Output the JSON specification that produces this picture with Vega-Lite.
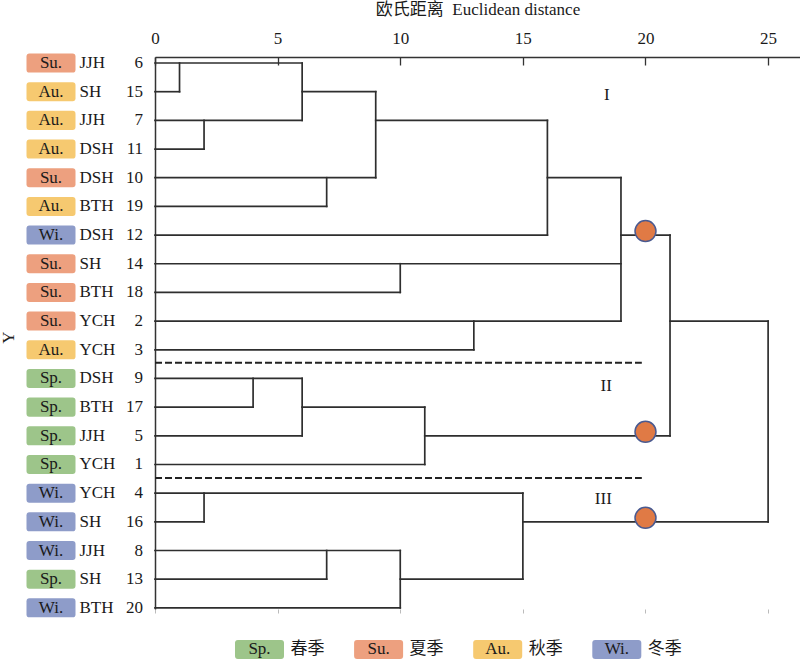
{
  "$schema": "https://vega.github.io/schema/vega-lite/v6.json",
  "autosize": "none",
  "padding": {"left": 155, "top": 57, "right": 0, "bottom": 51},
  "width": 645,
  "height": 552,
  "background": "white",
  "config": {
    "view": {"stroke": null},
    "font": "'Liberation Serif', 'Noto Sans CJK SC', serif",
    "axis": {"grid": false},
    "axisY": {"domainColor": "#333333", "domainWidth": 1.5, "ticks": false, "labels": false, "titleAngle": -90, "titleX": -147, "titleY": 280, "titleFontSize": 17, "titleFontWeight": "normal", "titleFont": "'Liberation Serif', serif", "titleColor": "#222222", "titleAlign": "center", "titleBaseline": "middle"},
    "text": {"font": "'Liberation Serif', 'Noto Sans CJK SC', serif", "fontSize": 17, "color": "#1a1a1a"}
  },
  "datasets": {
    "leaves": [
      {"idx": 0, "season": "Su.", "site": "JJH", "num": "6"},
      {"idx": 1, "season": "Au.", "site": "SH", "num": "15"},
      {"idx": 2, "season": "Au.", "site": "JJH", "num": "7"},
      {"idx": 3, "season": "Au.", "site": "DSH", "num": "11"},
      {"idx": 4, "season": "Su.", "site": "DSH", "num": "10"},
      {"idx": 5, "season": "Au.", "site": "BTH", "num": "19"},
      {"idx": 6, "season": "Wi.", "site": "DSH", "num": "12"},
      {"idx": 7, "season": "Su.", "site": "SH", "num": "14"},
      {"idx": 8, "season": "Su.", "site": "BTH", "num": "18"},
      {"idx": 9, "season": "Su.", "site": "YCH", "num": "2"},
      {"idx": 10, "season": "Au.", "site": "YCH", "num": "3"},
      {"idx": 11, "season": "Sp.", "site": "DSH", "num": "9"},
      {"idx": 12, "season": "Sp.", "site": "BTH", "num": "17"},
      {"idx": 13, "season": "Sp.", "site": "JJH", "num": "5"},
      {"idx": 14, "season": "Sp.", "site": "YCH", "num": "1"},
      {"idx": 15, "season": "Wi.", "site": "YCH", "num": "4"},
      {"idx": 16, "season": "Wi.", "site": "SH", "num": "16"},
      {"idx": 17, "season": "Wi.", "site": "JJH", "num": "8"},
      {"idx": 18, "season": "Sp.", "site": "SH", "num": "13"},
      {"idx": 19, "season": "Wi.", "site": "BTH", "num": "20"}
    ],
    "segments": [
      {"d1": 0, "d2": 6, "r1": 0, "r2": 0},
      {"d1": 0, "d2": 1, "r1": 1, "r2": 1},
      {"d1": 0, "d2": 6, "r1": 2, "r2": 2},
      {"d1": 0, "d2": 2, "r1": 3, "r2": 3},
      {"d1": 0, "d2": 9, "r1": 4, "r2": 4},
      {"d1": 0, "d2": 7, "r1": 5, "r2": 5},
      {"d1": 0, "d2": 16, "r1": 6, "r2": 6},
      {"d1": 0, "d2": 19, "r1": 7, "r2": 7},
      {"d1": 0, "d2": 10, "r1": 8, "r2": 8},
      {"d1": 0, "d2": 19, "r1": 9, "r2": 9},
      {"d1": 0, "d2": 13, "r1": 10, "r2": 10},
      {"d1": 0, "d2": 6, "r1": 11, "r2": 11},
      {"d1": 0, "d2": 4, "r1": 12, "r2": 12},
      {"d1": 0, "d2": 6, "r1": 13, "r2": 13},
      {"d1": 0, "d2": 11, "r1": 14, "r2": 14},
      {"d1": 0, "d2": 15, "r1": 15, "r2": 15},
      {"d1": 0, "d2": 2, "r1": 16, "r2": 16},
      {"d1": 0, "d2": 10, "r1": 17, "r2": 17},
      {"d1": 0, "d2": 7, "r1": 18, "r2": 18},
      {"d1": 0, "d2": 10, "r1": 19, "r2": 19},
      {"d1": 6, "d2": 9, "r1": 1, "r2": 1},
      {"d1": 9, "d2": 16, "r1": 2, "r2": 2},
      {"d1": 16, "d2": 19, "r1": 4, "r2": 4},
      {"d1": 19, "d2": 21, "r1": 6, "r2": 6},
      {"d1": 6, "d2": 11, "r1": 12, "r2": 12},
      {"d1": 11, "d2": 21, "r1": 13, "r2": 13},
      {"d1": 10, "d2": 15, "r1": 18, "r2": 18},
      {"d1": 15, "d2": 25, "r1": 16, "r2": 16},
      {"d1": 21, "d2": 25, "r1": 9, "r2": 9},
      {"d1": 1, "d2": 1, "r1": 0, "r2": 1},
      {"d1": 2, "d2": 2, "r1": 2, "r2": 3},
      {"d1": 6, "d2": 6, "r1": 0, "r2": 2},
      {"d1": 9, "d2": 9, "r1": 1, "r2": 4},
      {"d1": 7, "d2": 7, "r1": 4, "r2": 5},
      {"d1": 16, "d2": 16, "r1": 2, "r2": 6},
      {"d1": 10, "d2": 10, "r1": 7, "r2": 8},
      {"d1": 13, "d2": 13, "r1": 9, "r2": 10},
      {"d1": 19, "d2": 19, "r1": 4, "r2": 9},
      {"d1": 4, "d2": 4, "r1": 11, "r2": 12},
      {"d1": 6, "d2": 6, "r1": 11, "r2": 13},
      {"d1": 11, "d2": 11, "r1": 12, "r2": 14},
      {"d1": 21, "d2": 21, "r1": 6, "r2": 13},
      {"d1": 2, "d2": 2, "r1": 15, "r2": 16},
      {"d1": 7, "d2": 7, "r1": 17, "r2": 18},
      {"d1": 10, "d2": 10, "r1": 17, "r2": 19},
      {"d1": 15, "d2": 15, "r1": 15, "r2": 18},
      {"d1": 25, "d2": 25, "r1": 9, "r2": 16}
    ],
    "cuts": [
      {"d": 20, "row": 6},
      {"d": 20, "row": 13},
      {"d": 20, "row": 16}
    ],
    "separators": [
      {"row": 10.45},
      {"row": 14.47}
    ],
    "clusters": [
      {"label": "I", "d": 18.42, "row": 1.1},
      {"label": "II", "d": 18.4, "row": 11.27},
      {"label": "III", "d": 18.28, "row": 15.2}
    ],
    "legend": [
      {"season": "Sp.", "name": "春季"},
      {"season": "Su.", "name": "夏季"},
      {"season": "Au.", "name": "秋季"},
      {"season": "Wi.", "name": "冬季"}
    ]
  },
  "layer": [
    {
      "resolve": {"axis": {"x": "independent"}},
      "layer": [
        {
          "data": {"name": "segments"},
          "mark": {"type": "rule", "color": "#2e2e2e", "strokeWidth": 1.7, "strokeCap": "square"},
          "encoding": {
            "x": {"field": "d1", "type": "quantitative", "scale": {"domain": [0, 26.3], "nice": false, "zero": false},
              "axis": {"orient": "top", "values": [0, 5, 10, 15, 20, 25], "tickSize": -8, "tickColor": "#333333", "tickWidth": 1.3, "domainColor": "#333333", "domainWidth": 1.5, "labelFontSize": 17, "labelFont": "'Liberation Serif', serif", "labelColor": "#1a1a1a", "labelPadding": 22, "labelBaseline": "alphabetic", "labelFlush": false, "title": "欧氏距离\u00a0\u00a0Euclidean distance", "titleFontSize": 17, "titleFontWeight": "normal", "titleFont": "'Liberation Serif', 'Noto Sans CJK SC', serif", "titleColor": "#1a1a1a", "titleY": -43, "titleBaseline": "alphabetic"}},
            "x2": {"field": "d2"},
            "y": {"field": "r1", "type": "quantitative", "title": "Y", "scale": {"domain": [-0.21, 19.04], "nice": false, "zero": false, "reverse": true}},
            "y2": {"field": "r2"}
          }
        },
        {
          "data": {"name": "separators"},
          "mark": {"type": "rule", "color": "#222222", "strokeWidth": 2, "strokeDash": [7, 3]},
          "encoding": {
            "x": {"datum": 0, "type": "quantitative", "scale": {"domain": [0, 26.3], "nice": false, "zero": false}, "axis": null},
            "x2": {"datum": 19.85},
            "y": {"field": "row", "type": "quantitative", "title": "Y", "scale": {"domain": [-0.21, 19.04], "nice": false, "zero": false, "reverse": true}}
          }
        },
        {
          "data": {"name": "cuts"},
          "mark": {"type": "point", "shape": "circle", "filled": true, "fill": "#E07A45", "stroke": "#4A5A90", "strokeWidth": 1.5, "opacity": 1, "size": 440, "yOffset": -4},
          "encoding": {
            "x": {"field": "d", "type": "quantitative", "scale": {"domain": [0, 26.3], "nice": false, "zero": false},
              "axis": {"orient": "bottom", "values": [0, 5, 10, 15, 20, 25], "domain": false, "labels": false, "tickSize": 4, "tickColor": "#bbbbbb", "title": null}},
            "y": {"field": "row", "type": "quantitative", "title": "Y", "scale": {"domain": [-0.21, 19.04], "nice": false, "zero": false, "reverse": true}}
          }
        },
        {
          "data": {"name": "clusters"},
          "mark": {"type": "text", "align": "center", "baseline": "middle", "fontSize": 17},
          "encoding": {
            "x": {"field": "d", "type": "quantitative", "scale": {"domain": [0, 26.3], "nice": false, "zero": false}, "axis": null},
            "y": {"field": "row", "type": "quantitative", "title": "Y", "scale": {"domain": [-0.21, 19.04], "nice": false, "zero": false, "reverse": true}},
            "text": {"field": "label"}
          }
        },
        {
          "data": {"name": "leaves"},
          "mark": {"type": "point", "shape": "M-0.88,-0.388H0.88Q1,-0.388,1,-0.27V0.27Q1,0.388,0.88,0.388H-0.88Q-1,0.388,-1,0.27V-0.27Q-1,-0.388,-0.88,-0.388Z", "filled": true, "opacity": 1, "strokeWidth": 0, "size": 2401, "xOffset": -104},
          "encoding": {
            "x": {"datum": 0, "type": "quantitative", "scale": {"domain": [0, 26.3], "nice": false, "zero": false}, "axis": null},
            "y": {"field": "idx", "type": "quantitative", "title": "Y", "scale": {"domain": [-0.21, 19.04], "nice": false, "zero": false, "reverse": true}},
            "color": {"field": "season", "type": "nominal", "scale": {"domain": ["Sp.", "Su.", "Au.", "Wi."], "range": ["#9DC58A", "#EDA07F", "#F6C970", "#8E9CC9"]}, "legend": null}
          }
        },
        {
          "data": {"name": "leaves"},
          "mark": {"type": "text", "align": "center", "baseline": "middle", "dx": -104},
          "encoding": {
            "x": {"datum": 0, "type": "quantitative", "scale": {"domain": [0, 26.3], "nice": false, "zero": false}, "axis": null},
            "y": {"field": "idx", "type": "quantitative", "title": "Y", "scale": {"domain": [-0.21, 19.04], "nice": false, "zero": false, "reverse": true}},
            "text": {"field": "season"}
          }
        },
        {
          "data": {"name": "leaves"},
          "mark": {"type": "text", "align": "left", "baseline": "middle", "dx": -75.5},
          "encoding": {
            "x": {"datum": 0, "type": "quantitative", "scale": {"domain": [0, 26.3], "nice": false, "zero": false}, "axis": null},
            "y": {"field": "idx", "type": "quantitative", "title": "Y", "scale": {"domain": [-0.21, 19.04], "nice": false, "zero": false, "reverse": true}},
            "text": {"field": "site"}
          }
        },
        {
          "data": {"name": "leaves"},
          "mark": {"type": "text", "align": "right", "baseline": "middle", "dx": -12},
          "encoding": {
            "x": {"datum": 0, "type": "quantitative", "scale": {"domain": [0, 26.3], "nice": false, "zero": false}, "axis": null},
            "y": {"field": "idx", "type": "quantitative", "title": "Y", "scale": {"domain": [-0.21, 19.04], "nice": false, "zero": false, "reverse": true}},
            "text": {"field": "num", "type": "nominal"}
          }
        }
      ]
    },
    {
      "data": {"name": "legend"},
      "layer": [
        {
          "mark": {"type": "point", "shape": "M-0.88,-0.388H0.88Q1,-0.388,1,-0.27V0.27Q1,0.388,0.88,0.388H-0.88Q-1,0.388,-1,0.27V-0.27Q-1,-0.388,-0.88,-0.388Z", "filled": true, "opacity": 1, "strokeWidth": 0, "size": 2401},
          "encoding": {
            "x": {"field": "season", "type": "nominal", "scale": {"type": "point", "domain": ["Sp.", "Su.", "Au.", "Wi."], "range": [104.5, 461.8], "padding": 0}, "axis": null},
            "y": {"datum": 20.45, "type": "quantitative", "title": "Y", "scale": {"domain": [-0.21, 19.04], "nice": false, "zero": false, "reverse": true}},
            "color": {"field": "season", "type": "nominal", "scale": {"domain": ["Sp.", "Su.", "Au.", "Wi."], "range": ["#9DC58A", "#EDA07F", "#F6C970", "#8E9CC9"]}, "legend": null}
          }
        },
        {
          "mark": {"type": "text", "align": "center", "baseline": "middle"},
          "encoding": {
            "x": {"field": "season", "type": "nominal", "scale": {"type": "point", "domain": ["Sp.", "Su.", "Au.", "Wi."], "range": [104.5, 461.8], "padding": 0}, "axis": null},
            "y": {"datum": 20.45, "type": "quantitative", "title": "Y", "scale": {"domain": [-0.21, 19.04], "nice": false, "zero": false, "reverse": true}},
            "text": {"field": "season"}
          }
        },
        {
          "mark": {"type": "text", "align": "left", "baseline": "middle", "dx": 31, "font": "'Noto Sans CJK SC', sans-serif"},
          "encoding": {
            "x": {"field": "season", "type": "nominal", "scale": {"type": "point", "domain": ["Sp.", "Su.", "Au.", "Wi."], "range": [104.5, 461.8], "padding": 0}, "axis": null},
            "y": {"datum": 20.45, "type": "quantitative", "title": "Y", "scale": {"domain": [-0.21, 19.04], "nice": false, "zero": false, "reverse": true}},
            "text": {"field": "name"}
          }
        }
      ]
    }
  ],
  "resolve": {"scale": {"x": "independent"}}
}
